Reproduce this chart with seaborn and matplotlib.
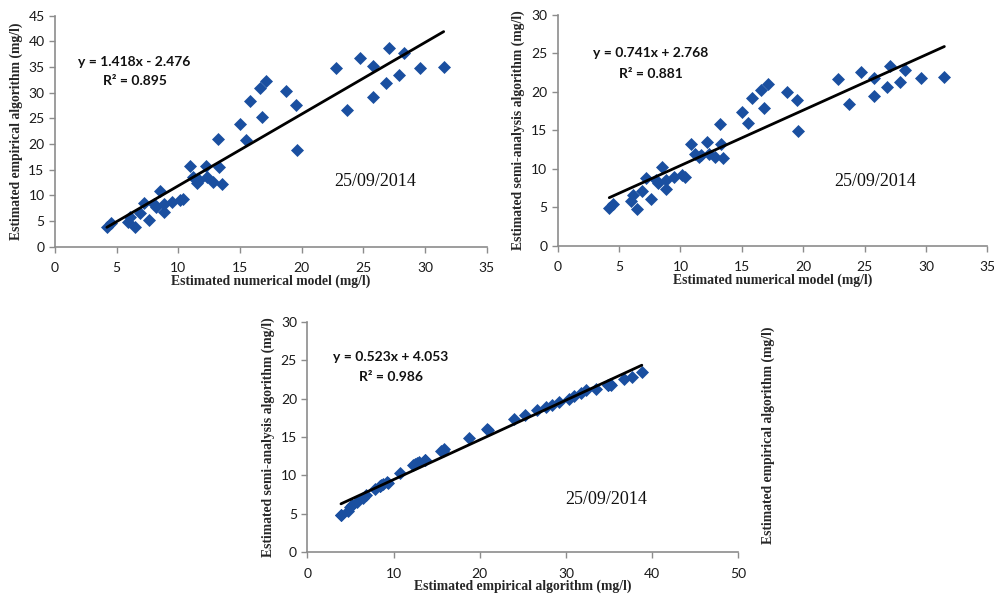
import numpy as np
import pandas as pd
import matplotlib
matplotlib.use('Agg')
import matplotlib.pyplot as plt
import seaborn as sns

# estimated concentrations (mg/l), one entry per sample
numerical = [27.1, 24.7, 22.8, 25.8, 28.3, 29.6, 31.5, 27.9, 26.8, 25.8, 23.7,
             17.1, 16.6, 15.8, 18.7, 19.5, 16.8, 15.0, 15.5, 19.6, 13.2, 10.9,
             12.2, 13.3, 13.5, 12.8, 12.3, 11.5, 11.2, 11.7, 10.4, 10.1, 9.5,
             8.5, 8.8, 8.8, 8.2, 8.0, 7.2, 7.6, 6.9, 6.5, 6.1, 5.95, 4.2, 4.5]
empirical = [38.8, 36.7, 34.9, 35.2, 37.7, 34.9, 35.1, 33.5, 31.8, 29.2, 26.6,
             32.3, 30.9, 28.4, 30.3, 27.7, 25.2, 24.0, 20.8, 18.8, 21.0, 15.7,
             15.8, 15.5, 12.2, 12.7, 13.6, 12.5, 13.6, 13.0, 9.3, 9.2, 8.8,
             10.8, 8.4, 6.8, 7.8, 8.4, 8.6, 5.2, 6.5, 3.9, 5.8, 4.9, 3.9, 4.7]
semi = [23.4, 22.6, 21.7, 21.8, 22.8, 21.8, 21.9, 21.3, 20.7, 19.5, 18.5,
        21.1, 20.3, 19.2, 20.0, 18.9, 17.9, 17.4, 16.0, 14.9, 15.9, 13.2,
        13.5, 13.2, 11.4, 11.6, 12.0, 11.5, 12.0, 11.8, 9.0, 9.2, 8.9,
        10.3, 8.6, 7.4, 8.2, 8.6, 8.8, 6.1, 7.1, 4.8, 6.6, 5.9, 4.9, 5.4]

equations = ['y = 1.418x - 2.476', 'y = 0.741x + 2.768', 'y = 0.523x + 4.053']
r2_labels = ['R² = 0.895', 'R² = 0.881', 'R² = 0.986']
date_label = '25/09/2014'

df = pd.DataFrame({'numerical': numerical, 'empirical': empirical, 'semi': semi})

sns.set_style('white')
plt.rcParams['font.family'] = ['Lato', 'DejaVu Sans']

fig = plt.figure(figsize=(9.95, 6.02), dpi=100)

panels = [
    # x col, y col, axes rect, xlim, ylim, xlabel, ylabel, eq pos, date pos
    ('numerical', 'empirical', [0.0553, 0.590, 0.434, 0.384], (0, 35), (0, 45),
     'Estimated numerical model (mg/l)', 'Estimated empirical algorithm (mg/l)',
     (0.184, 0.80, 0.719), (0.742, 0.281)),
    ('numerical', 'semi', [0.5605, 0.5914, 0.4318, 0.3837], (0, 35), (0, 30),
     'Estimated numerical model (mg/l)', 'Estimated semi-analysis algorithm (mg/l)',
     (0.217, 0.834, 0.745), (0.739, 0.278)),
    ('empirical', 'semi', [0.3089, 0.0826, 0.4332, 0.383], (0, 50), (0, 30),
     'Estimated empirical algorithm (mg/l)', 'Estimated semi-analysis algorithm (mg/l)',
     (0.193, 0.846, 0.759), (0.693, 0.227)),
]

for i, (xc, yc, rect, xlim, ylim, xlab, ylab, eqpos, dpos) in enumerate(panels):
    ax = fig.add_axes(rect)
    sns.regplot(data=df, x=xc, y=yc, ax=ax, ci=None, marker='D',
                scatter_kws={'s': 44, 'color': '#1a4fa0', 'alpha': 1, 'linewidths': 0},
                line_kws={'color': 'black', 'lw': 2})
    ax.set_xlim(*xlim)
    ax.set_ylim(*ylim)
    ax.set_xticks(np.arange(xlim[0], xlim[1] + 1, 5 if xlim[1] == 35 else 10))
    ax.set_yticks(np.arange(ylim[0], ylim[1] + 1, 5))
    for s in ['top', 'right']:
        ax.spines[s].set_visible(False)
    for s in ['left', 'bottom']:
        ax.spines[s].set_color('#8c8c8c')
        ax.spines[s].set_linewidth(1.2)
    ax.tick_params(axis='both', direction='out', length=4, width=1, color='#8c8c8c',
                   labelsize=10, labelcolor='#1a1a1a', left=True, bottom=True)
    ax.tick_params(axis='x', pad=7)
    ax.set_xlabel(xlab, family='Liberation Serif', weight='bold', fontsize=9.8)
    ax.set_ylabel(ylab, family='Liberation Serif', weight='bold', fontsize=9.8)
    ax.xaxis.set_label_coords(0.5, -0.12)
    ax.yaxis.set_label_coords(-0.075, 0.5)
    ax.text(eqpos[0], eqpos[1], equations[i], transform=ax.transAxes, ha='center',
            va='center', fontsize=10, weight='bold', color='#111111')
    ax.text(eqpos[0], eqpos[2], r2_labels[i], transform=ax.transAxes, ha='center',
            va='center', fontsize=10, weight='bold', color='#111111')
    ax.text(dpos[0], dpos[1], date_label, transform=ax.transAxes, ha='center',
            va='center', fontsize=13, family='Liberation Serif', color='#111111')

# leftover axis title to the right of the bottom panel
fig.text(768 / 995, 1 - 435 / 602, 'Estimated empirical algorithm (mg/l)', rotation=90,
         ha='center', va='center', family='Liberation Serif', weight='bold', fontsize=9.8)

fig.savefig('out.png', dpi=100)
